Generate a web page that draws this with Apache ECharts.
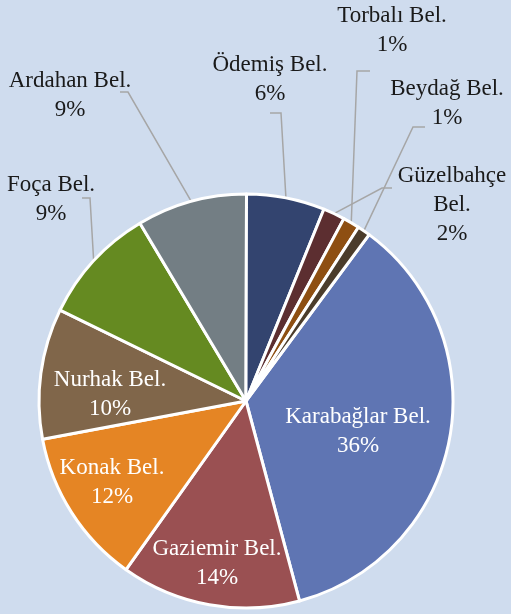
<!DOCTYPE html>
<html>
<head>
<meta charset="utf-8">
<script src="https://cdn.jsdelivr.net/npm/echarts@6/dist/echarts.min.js"></script>
<style>
  html, body { margin: 0; padding: 0; background: #cfdcee; }
  #chart { width: 511px; height: 614px; }
</style>
</head>
<body>
<div id="chart"></div>
<script>
// municipalities, sorted as in the source sheet
const names = [
  "Karabağlar Bel.", "Gaziemir Bel.", "Konak Bel.", "Nurhak Bel.", "Foça Bel.",
  "Ardahan Bel.", "Ödemiş Bel.", "Güzelbahçe Bel.", "Torbalı Bel.", "Beydağ Bel."
];
const shares = [35.7, 14.0, 12.2, 10.2, 9.2, 8.6, 6.1, 1.7, 1.3, 1.0];
const colors = [
  "#5f75b3", "#9a5052", "#e58524", "#80664a", "#658a21",
  "#737e84", "#33446f", "#5c2e30", "#8e4f12", "#4b3c2b"
];
const insideNames = ["Karabağlar Bel.", "Gaziemir Bel.", "Konak Bel.", "Nurhak Bel."];
// names that Excel wrapped onto two lines
const wrapped = { "Güzelbahçe Bel.": "Güzelbahçe\nBel." };

// where the data labels sit (label centre, leader elbow, leader end)
const labelSpots = {
  "Karabağlar Bel.": { at: [358, 431] },
  "Gaziemir Bel.": { at: [217, 563] },
  "Konak Bel.": { at: [112, 482] },
  "Nurhak Bel.": { at: [110, 394] },
  "Foça Bel.": { at: [51, 199], elbow: [90, 198], end: [82, 198] },
  "Ardahan Bel.": { at: [70, 95], elbow: [128, 92], end: [120, 92] },
  "Ödemiş Bel.": { at: [270, 79], elbow: [281, 113], end: [270, 113] },
  "Güzelbahçe Bel.": { at: [452, 205], elbow: [382, 188], end: [392, 188] },
  "Torbalı Bel.": { at: [392, 30], elbow: [357, 71], end: [370, 71] },
  "Beydağ Bel.": { at: [447, 103], elbow: [413, 127], end: [425, 127] }
};

const chart = echarts.init(document.getElementById("chart"));

const pieData = names.map((n, i) => {
  const inside = insideNames.indexOf(n) >= 0;
  return {
    name: n,
    value: shares[i],
    itemStyle: { color: colors[i] },
    label: inside
      ? { position: "inside", color: "#ffffff" }
      : { position: "outside", color: "#1a1a1a" },
    labelLine: { show: !inside }
  };
});

chart.setOption({
  backgroundColor: "#cfdcee",
  animation: false,
  series: [
    {
      type: "pie",
      center: [246, 401],
      radius: 207,
      startAngle: 53.5,
      clockwise: true,
      avoidLabelOverlap: false,
      data: pieData,
      itemStyle: {
        borderColor: "#ffffff",
        borderWidth: 3
      },
      label: {
        fontFamily: "Liberation Serif",
        fontSize: 23,
        lineHeight: 29,
        align: "center",
        formatter: p => (wrapped[p.name] || p.name) + "\n" + Math.round(p.percent) + "%"
      },
      labelLine: {
        lineStyle: { color: "#a6a6a6", width: 1.5 }
      },
      labelLayout: params => {
        const spot = labelSpots[names[params.dataIndex]];
        const out = {
          x: spot.at[0],
          y: spot.at[1],
          align: "center",
          verticalAlign: "middle"
        };
        if (spot.elbow && params.labelLinePoints) {
          out.labelLinePoints = [params.labelLinePoints[0], spot.elbow, spot.end];
        }
        return out;
      }
    }
  ]
});
</script>
</body>
</html>
